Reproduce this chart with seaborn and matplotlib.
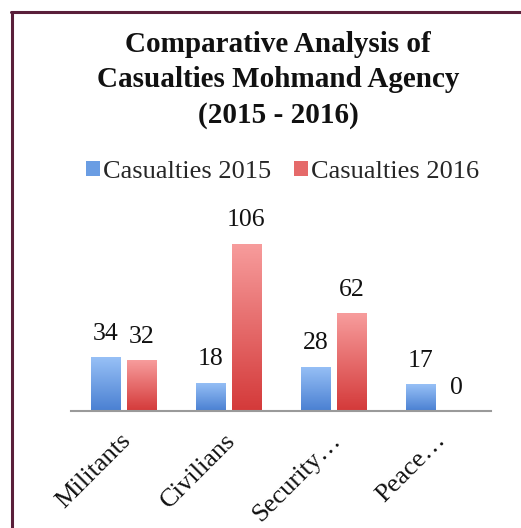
import numpy as np
import pandas as pd
import matplotlib
matplotlib.use("Agg")
import matplotlib.pyplot as plt
import seaborn as sns
from matplotlib.patches import Rectangle
from matplotlib.colors import LinearSegmentedColormap
from matplotlib.lines import Line2D
from matplotlib.transforms import ScaledTranslation

categories = ["Militants", "Civilians", "Security\u2026", "Peace\u2026"]
series_names = ["Casualties 2015", "Casualties 2016"]
values_2015 = [34, 18, 28, 17]
values_2016 = [32, 106, 62, 0]
title_text = "Comparative Analysis of\nCasualties Mohmand Agency\n(2015 - 2016)"

df = pd.DataFrame({
    "category": categories * 2,
    "series": [series_names[0]] * 4 + [series_names[1]] * 4,
    "value": values_2015 + values_2016,
})

sns.set_theme(style="white")
plt.rcParams["font.family"] = ["Liberation Serif", "DejaVu Serif"]

W, H = 521, 528
fig = plt.figure(figsize=(W / 100, H / 100), dpi=100)
fig.patch.set_facecolor("white")
ax = fig.add_axes([71 / W, 1 - 411 / H, 420 / W, 0.359])

mid_colors = {"Casualties 2015": "#6a9de3", "Casualties 2016": "#e56a6a"}
grad = {
    "Casualties 2015": ("#4a80d2", "#97c0f6"),
    "Casualties 2016": ("#d43a3a", "#f79c9c"),
}

sns.barplot(data=df, x="category", y="value", hue="series", hue_order=series_names,
            palette=mid_colors, width=0.68, gap=0.18, ax=ax, legend=False)

ax.set_ylim(0, 120)
ax.set_xlim(-0.5, 3.5)

# gradient overlay on bars
for cont, name in zip(ax.containers, series_names):
    cmap = LinearSegmentedColormap.from_list(name, grad[name])
    for bar, v in zip(cont.patches, cont.datavalues):
        x0 = bar.get_x()
        w = bar.get_width()
        h = bar.get_height()
        if h > 0:
            g = np.linspace(0, 1, 100).reshape(-1, 1)
            im = ax.imshow(g, cmap=cmap, aspect="auto", origin="lower",
                           extent=[x0, x0 + w, 0, h], zorder=bar.get_zorder() + 0.1)
            im.set_clip_path(bar)
        ax.annotate(f"{int(v)}", (x0 + w / 2, h), xytext=(0, 9), textcoords="offset points",
                    ha="center", va="bottom", fontsize=18.5, color="#111111")

ax.set_ylim(0, 120)
ax.set_xlim(-0.5, 3.5)

for s in ["top", "right", "left"]:
    ax.spines[s].set_visible(False)
ax.spines["bottom"].set_color("#9a9a9a")
ax.spines["bottom"].set_linewidth(1.5)
ax.set_yticks([])
ax.set_xlabel("")
ax.set_ylabel("")
ax.tick_params(axis="x", length=0, pad=13)
ax.set_xticks(range(len(categories)))
ax.set_xticklabels(categories, rotation=45, ha="right", rotation_mode="anchor",
                   fontsize=19, color="#111111")
shift = ScaledTranslation(-4 / 100, 0, fig.dpi_scale_trans)
for lbl in ax.get_xticklabels():
    lbl.set_transform(lbl.get_transform() + shift)

fig.text(278 / W, 1 - 80 / H, title_text, ha="center", va="center",
         fontsize=21, fontweight="bold", linespacing=1.4, color="#111111")

handles = [Rectangle((0, 0), 1, 1, facecolor=mid_colors[n], edgecolor="none") for n in series_names]
fig.legend(handles, series_names, loc="center", bbox_to_anchor=(282.5 / W, 1 - 172 / H),
           ncol=2, frameon=False, fontsize=19, handlelength=0.53, handleheight=0.53,
           handletextpad=0.12, columnspacing=0.85)

# frame lines (left and top)
fig.add_artist(Line2D([11.5 / W, 11.5 / W], [0, 1 - 11.5 / H], color="#5a1f3a", lw=2.2,
                      transform=fig.transFigure))
fig.add_artist(Line2D([10.5 / W, 1], [1 - 12 / H, 1 - 12 / H], color="#5a1f3a", lw=2.2,
                      transform=fig.transFigure))

fig.savefig("out.png", dpi=100)
